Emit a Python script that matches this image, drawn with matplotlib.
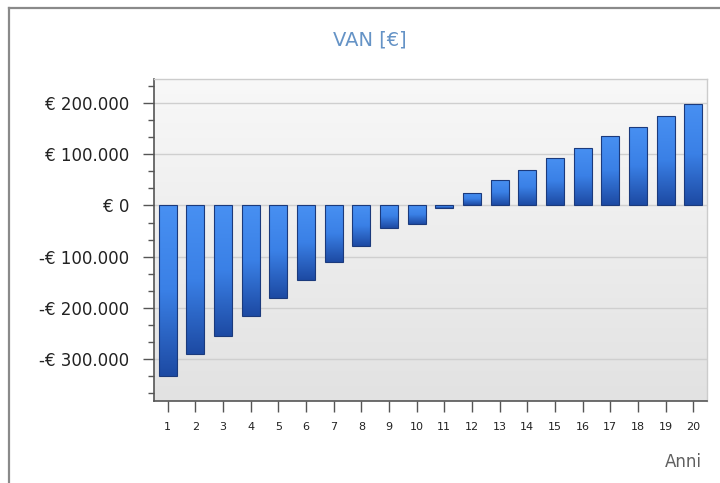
import numpy as np
import matplotlib
matplotlib.use("Agg")
import matplotlib.pyplot as plt
from matplotlib.colors import LinearSegmentedColormap
from matplotlib.lines import Line2D
from matplotlib.ticker import FuncFormatter, MultipleLocator, AutoMinorLocator

anni = list(range(1, 21))
van = [-333000, -290000, -255000, -216000, -181000, -146000, -111000, -80000,
       -45000, -37000, -5000, 25000, 49000, 69000, 93000, 112000, 135000,
       154000, 174000, 198000]

title = "VAN [€]"
xlabel = "Anni"


def euro(v, pos=None):
    s = f"€ {abs(int(round(v))):,}".replace(",", ".")
    return "-" + s if v < 0 else s


fig = plt.figure(figsize=(7.2, 4.83), dpi=100, facecolor="white")
ax = fig.add_axes([154 / 720, 1 - 401 / 483, 553 / 720, 322 / 483])

# plot area background: light grey gradient
bg = LinearSegmentedColormap.from_list("bg", ["#e2e2e2", "#f8f8f8"])
ax.imshow(np.linspace(0, 1, 256).reshape(-1, 1), cmap=bg, origin="lower",
          extent=[0, 1, 0, 1], transform=ax.transAxes, aspect="auto", zorder=0)

ax.yaxis.grid(True, color="#cfcfcf", lw=1, zorder=1)
ax.set_axisbelow(True)

bars = ax.bar(anni, van, width=0.65, color="none", edgecolor="#1b3a7c",
              lw=0.8, zorder=3)
barcm = LinearSegmentedColormap.from_list("bar", ["#1d4aa3", "#3a80e6", "#4890f2"])
grad = np.linspace(0, 1, 128).reshape(-1, 1)
for b in bars:
    x0, y0 = b.get_x(), b.get_y()
    w, h = b.get_width(), b.get_height()
    im = ax.imshow(grad, cmap=barcm, origin="lower", aspect="auto",
                   extent=[x0, x0 + w, min(y0, y0 + h), max(y0, y0 + h)],
                   zorder=2)
    im.set_clip_path(b)

ax.set_xlim(0.5, 20.5)
ax.set_ylim(-382000, 247000)
ax.set_aspect("auto")

ax.set_xticks(anni)
ax.yaxis.set_major_locator(MultipleLocator(100000))
ax.yaxis.set_minor_locator(AutoMinorLocator(3))
ax.yaxis.set_major_formatter(FuncFormatter(euro))

ax.tick_params(axis="y", which="major", direction="out", length=8, width=1,
               color="#555555", labelsize=12, pad=10, labelcolor="#222222")
ax.tick_params(axis="y", which="minor", direction="out", length=4, width=1,
               color="#555555")
ax.tick_params(axis="x", direction="out", length=8, width=1, color="#555555",
               labelsize=8, pad=7, labelcolor="#222222")

for side in ["left", "bottom"]:
    ax.spines[side].set_color("#555555")
    ax.spines[side].set_linewidth(1.2)
for side in ["top", "right"]:
    ax.spines[side].set_color("#cccccc")
    ax.spines[side].set_linewidth(1)

fig.text(370 / 720, 1 - 40 / 483, title, ha="center", va="center",
         fontsize=14, color="#6593c6")
fig.text(702 / 720, 1 - 462 / 483, xlabel, ha="right", va="center",
         fontsize=12, color="#606060")

# outer frame (top and left edges visible)
fig.add_artist(Line2D([9 / 720, 1], [1 - 8 / 483, 1 - 8 / 483],
                      transform=fig.transFigure, color="#8a8a8a", lw=1.6))
fig.add_artist(Line2D([9 / 720, 9 / 720], [0, 1 - 8 / 483],
                      transform=fig.transFigure, color="#8a8a8a", lw=1.6))

fig.savefig("out.png", dpi=100)
